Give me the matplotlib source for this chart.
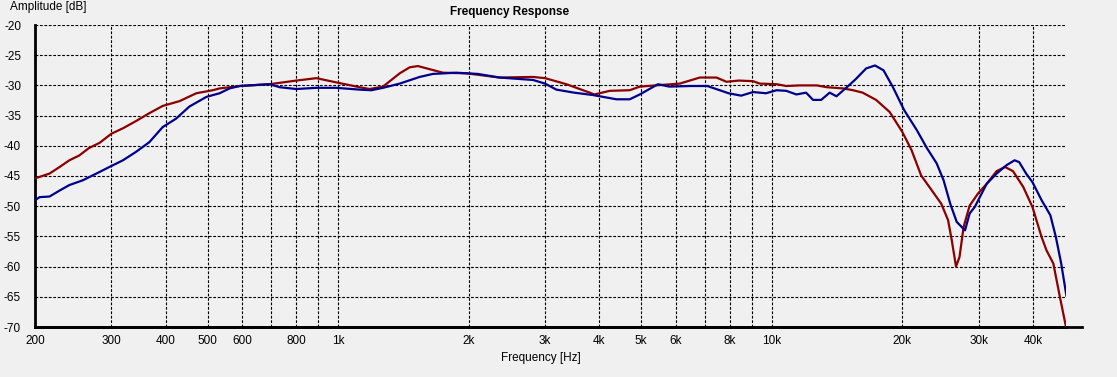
import matplotlib
matplotlib.use("Agg")
import matplotlib.pyplot as plt
from matplotlib.lines import Line2D

plt.rcParams['font.family'] = ['Liberation Sans', 'DejaVu Sans']
plt.rcParams['axes.unicode_minus'] = False

# red trace (frequency in Hz, level in dB)
red_f = [200, 216, 228, 240, 253, 266, 282, 300, 319, 342, 367, 394, 431, 471, 514,
         533, 593, 695, 801, 891, 990, 1121, 1182, 1269, 1387, 1463, 1528, 1745, 1976,
         2358, 2814, 3000, 3360, 3804, 3900, 4229, 4704, 4961, 5400, 6135, 6823, 7456,
         7862, 8400, 9055, 9380, 10260, 10800, 11600, 12700, 13400, 14600, 15400, 16200,
         17400, 18700, 20000, 21000, 22100, 23400, 24600, 25500, 26000, 26600, 27100,
         27700, 28600, 29900, 31300, 33000, 34500, 36000, 38000, 39900, 41900, 43000,
         44600, 46200, 47700]
red_db = [-45.4, -44.6, -43.5, -42.4, -41.6, -40.4, -39.5, -38.0, -37.1, -35.9, -34.6,
          -33.4, -32.6, -31.3, -30.8, -30.5, -30.1, -29.8, -29.2, -28.8, -29.5, -30.3,
          -30.6, -30.2, -28.0, -27.0, -26.8, -27.9, -28.0, -28.7, -28.6, -28.8, -29.8,
          -31.2, -31.5, -30.9, -30.8, -30.2, -30.0, -29.7, -28.7, -28.7, -29.4, -29.2,
          -29.3, -29.7, -29.8, -30.1, -30.0, -30.0, -30.3, -30.5, -30.8, -31.2, -32.4,
          -34.4, -37.7, -40.7, -44.9, -47.4, -49.6, -52.3, -55.6, -60.0, -58.4, -53.4,
          -49.9, -47.9, -46.3, -44.2, -43.5, -44.2, -46.8, -50.1, -55.1, -57.3, -59.5,
          -65.1, -70.0]

# blue trace
blue_f = [200, 205, 216, 228, 240, 258, 277, 297, 319, 342, 367, 394, 423, 454, 497,
          533, 562, 593, 695, 733, 801, 891, 990, 1121, 1193, 1269, 1387, 1542, 1654,
          1874, 2100, 2358, 2814, 3000, 3187, 3500, 3871, 4384, 4704, 4961, 5467, 5800,
          6500, 7100, 7586, 7950, 8500, 9055, 9700, 10260, 10800, 11400, 12000, 12450,
          13000, 13600, 14100, 14900, 15600, 16500, 17300, 18100, 19000, 20200, 21600,
          22800, 24000, 24900, 25800, 26700, 27900, 28600, 29400, 31300, 33000, 34800,
          36300, 37200, 38600, 39900, 41900, 43900, 45200, 46500, 47800]
blue_db = [-49.0, -48.5, -48.4, -47.4, -46.5, -45.7, -44.6, -43.5, -42.4, -41.0, -39.4,
           -36.9, -35.5, -33.5, -31.9, -31.3, -30.5, -30.1, -29.8, -30.3, -30.6, -30.4,
           -30.4, -30.7, -30.8, -30.4, -29.7, -28.6, -28.1, -27.9, -28.1, -28.7, -29.1,
           -29.7, -30.7, -31.2, -31.6, -32.3, -32.3, -31.5, -29.8, -30.2, -30.1, -30.1,
           -30.8, -31.3, -31.7, -31.1, -31.3, -30.8, -30.9, -31.5, -31.2, -32.4, -32.4,
           -31.2, -31.8, -30.3, -29.0, -27.2, -26.7, -27.5, -30.2, -34.1, -37.4, -40.4,
           -42.9, -45.7, -49.6, -52.6, -54.0, -51.2, -50.1, -46.3, -44.6, -43.2, -42.4,
           -42.7, -44.6, -46.0, -49.0, -51.5, -55.1, -59.5, -64.8]

grid_f = [300, 400, 500, 600, 700, 800, 900, 1000, 2000, 3000, 4000, 5000, 6000,
          7000, 8000, 9000, 10000, 20000, 30000, 40000]
grid_lbl = ['300', '400', '500', '600', '', '800', '', '1k', '2k', '3k', '4k', '5k',
            '6k', '', '8k', '', '10k', '20k', '30k', '40k']
y_ticks = [-20, -25, -30, -35, -40, -45, -50, -55, -60, -65, -70]

bg = '#f0f0f0'
fig = plt.figure(figsize=(11.17, 3.77), dpi=100, facecolor=bg)
ax = fig.add_axes([35 / 1117, 1 - 327 / 377, (1066 - 35) / 1117, (327 - 25) / 377])
ax.set_facecolor(bg)

ax.plot(red_f, red_db, color='#8b0000', lw=1.6, zorder=3)
ax.plot(blue_f, blue_db, color='#00008b', lw=1.6, zorder=3)

ax.set_xscale('log')
ax.set_xlim(200, 47700)
ax.set_ylim(-70, -20)
ax.minorticks_off()

dash = (0, (2.5, 1.5))
for f in grid_f:
    ax.axvline(f, color='black', lw=0.8, ls=dash, zorder=1)
for y in y_ticks[:-1]:
    ax.axhline(y, color='black', lw=0.8, ls=dash, zorder=1)

ax.set_xticks([200] + grid_f)
ax.set_xticklabels(['200'] + grid_lbl)
ax.set_yticks(y_ticks)
ax.set_yticklabels([str(v) for v in y_ticks])
ax.tick_params(length=0, labelsize=8.5, colors='black')
ax.tick_params(axis='x', pad=6)
ax.tick_params(axis='y', pad=10)

for s in ['top', 'right']:
    ax.spines[s].set_visible(False)
ax.spines['left'].set_linewidth(2)
ax.spines['bottom'].set_linewidth(2)
# bottom axis line runs a bit past the plot area
ax.add_line(Line2D([0, (1082 - 35) / (1066 - 35)], [0, 0], transform=ax.transAxes,
                   color='black', lw=2, clip_on=False))

fig.text(510 / 1117, 1 - 12 / 377, 'Frequency Response', ha='center', va='center',
         fontsize=8.5, fontweight='bold')
fig.text(10 / 1117, 1 - 7 / 377, 'Amplitude [dB]', ha='left', va='center', fontsize=8.5)
fig.text(541 / 1117, 1 - 358 / 377, 'Frequency [Hz]', ha='center', va='center',
         fontsize=8.5)

fig.savefig('out.png', dpi=100, facecolor=bg)
